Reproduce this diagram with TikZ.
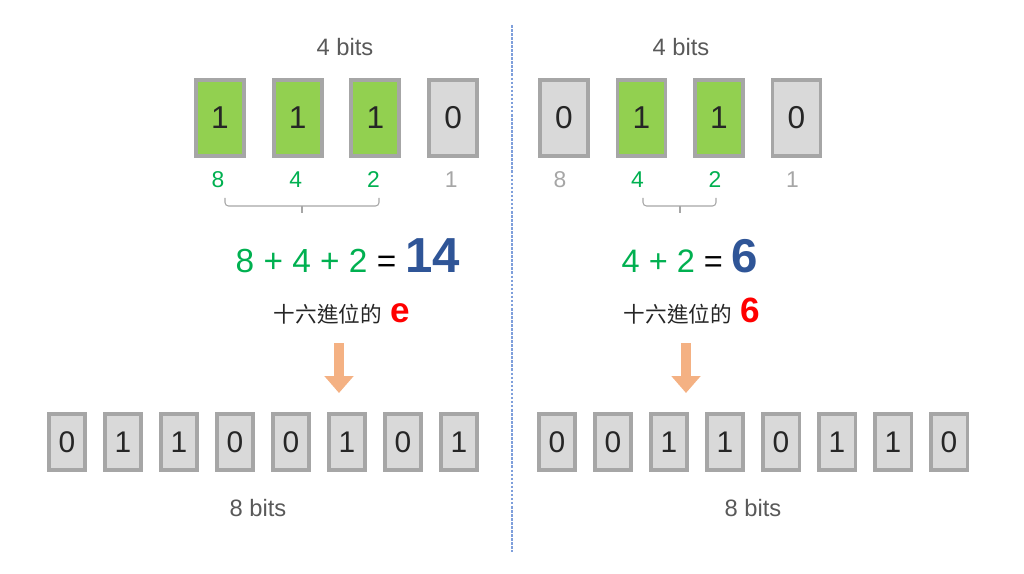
\documentclass[tikz,border=0pt]{standalone}
\usepackage{fontspec}
\setmainfont{Liberation Sans}
\newfontfamily\cjk{Noto Sans CJK TC}
\usetikzlibrary{arrows.meta}
\definecolor{boxstroke}{HTML}{A6A6A6}
\definecolor{bitgreen}{HTML}{92D050}
\definecolor{bitgray}{HTML}{D9D9D9}
\definecolor{digit}{HTML}{262626}
\definecolor{labelgray}{HTML}{595959}
\definecolor{weightgray}{HTML}{A6A6A6}
\definecolor{weightgreen}{HTML}{00B050}
\definecolor{sumblue}{HTML}{2F5597}
\definecolor{hexred}{HTML}{FF0000}
\definecolor{arrowfill}{HTML}{F4B183}
\definecolor{divider}{HTML}{7F9FDB}

\begin{document}
\begin{tikzpicture}[
    x=0.02cm, y=-0.02cm,
    bit/.style={
        rectangle,
        draw=boxstroke,
        line width=2.2pt,
        minimum width=0.96cm,
        minimum height=1.52cm,
        inner sep=0pt,
        text=digit,
        font=\fontsize{18}{20}\selectfont,
    },
    on/.style={bit, fill=bitgreen},
    off/.style={bit, fill=bitgray},
    byte/.style={
        rectangle,
        draw=boxstroke,
        line width=2pt,
        fill=bitgray,
        minimum width=0.73cm,
        minimum height=1.13cm,
        inner sep=0pt,
        text=digit,
        font=\fontsize{17}{19}\selectfont,
    },
    caption/.style={
        text=labelgray,
        font=\fontsize{13.5}{16}\selectfont,
    },
    weight/.style={
        font=\fontsize{13}{15}\selectfont,
    },
    bracket/.style={
        weightgray,
        line width=0.6pt,
        rounded corners=2pt,
    },
    downarrow/.style={
        arrowfill,
        line width=5.7pt,
        -{Triangle[length=9.6pt, width=16pt]},
    },
]

% Frame
\useasboundingbox (0,0) rectangle (1024,574);

% Divider
\draw[divider, line width=0.7pt, dash pattern=on 1.5pt off 0.8pt] (512,25) -- (512,552);

% Left: 4 bits
\node[caption] (capL) at (345,47) {4 bits};
\foreach \v/\s [count=\i] in {1/on, 1/on, 1/on, 0/off}
    \node[\s] (tl\i) at ({220+77.7*(\i-1)},118) {\v};
\foreach \w/\c [count=\i] in {8/weightgreen, 4/weightgreen, 2/weightgreen, 1/weightgray}
    \node[weight, text=\c] (wl\i) at ({218+77.7*(\i-1)},180) {\w};

\draw[bracket] (225,198) -- (225,206) -- (379,206) -- (379,198);
\draw[bracket] (302,206) -- (302,213);

\node[anchor=base, font=\fontsize{19}{23}\selectfont] (sumL) at (348,273) {%
    \textcolor{weightgreen}{8 + 4 + 2} = \textcolor{sumblue}{\fontsize{28}{31}\selectfont\bfseries 14}};
\node[anchor=base, text=digit] (hexL) at (342,322) {%
    {\cjk\fontsize{12.3}{15}\selectfont 十六進位的}\hspace{5pt}\textcolor{hexred}{\fontsize{20}{24}\selectfont\bfseries e}};

\coordinate (aL1) at (339,343);
\coordinate (aL2) at (339,393);
\draw[downarrow] (aL1) -- (aL2);

% Left: 8 bits
\foreach \v [count=\i] in {0,1,1,0,0,1,0,1}
    \node[byte] (bl\i) at ({67+56*(\i-1)},442) {\v};
\node[caption] (byteL) at (258,508) {8 bits};

% Right: 4 bits
\node[caption] (capR) at (681,47) {4 bits};
\foreach \v/\s [count=\i] in {0/off, 1/on, 1/on, 0/off}
    \node[\s] (tr\i) at ({564+77.5*(\i-1)},118) {\v};
\foreach \w/\c [count=\i] in {8/weightgray, 4/weightgreen, 2/weightgreen, 1/weightgray}
    \node[weight, text=\c] (wr\i) at ({560+77.5*(\i-1)},180) {\w};

\draw[bracket] (643,198) -- (643,206) -- (716,206) -- (716,198);
\draw[bracket] (680,206) -- (680,213);

\node[anchor=base, font=\fontsize{18.5}{22}\selectfont] (sumR) at (690,273) {%
    \textcolor{weightgreen}{4 + 2} = \textcolor{sumblue}{\fontsize{27}{30}\selectfont\bfseries 6}};
\node[anchor=base, text=digit] (hexR) at (692,322) {%
    {\cjk\fontsize{12.3}{15}\selectfont 十六進位的}\hspace{5pt}\textcolor{hexred}{\fontsize{20}{24}\selectfont\bfseries 6}};

\coordinate (aR1) at (686,343);
\coordinate (aR2) at (686,393);
\draw[downarrow] (aR1) -- (aR2);

% Right: 8 bits
\foreach \v [count=\i] in {0,0,1,1,0,1,1,0}
    \node[byte] (br\i) at ({557+56*(\i-1)},442) {\v};
\node[caption] (byteR) at (753,508) {8 bits};

\end{tikzpicture}
\end{document}
